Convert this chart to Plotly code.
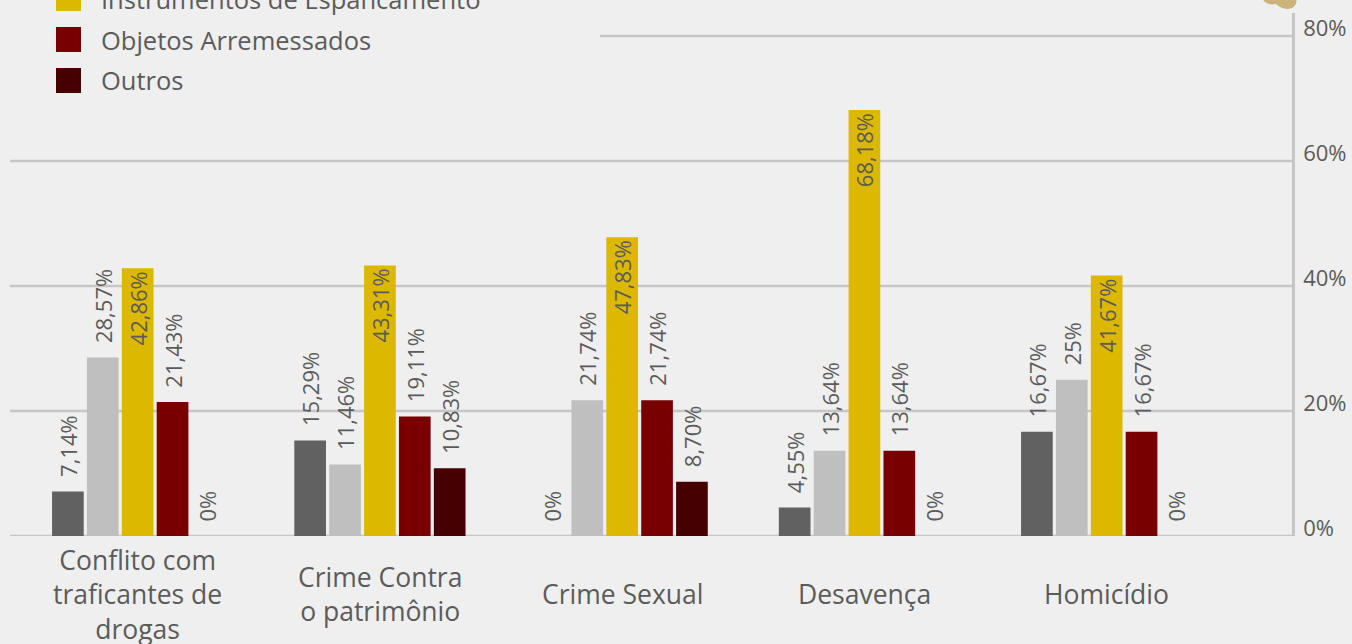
import plotly.graph_objects as go

# Motivação do linchamento x instrumento utilizado (%)
categories = ["Conflito com traficantes de drogas", "Crime Contra o patrimônio",
              "Crime Sexual", "Desavença", "Homicídio"]
category_labels = ["Conflito com<br>traficantes de<br>drogas", "Crime Contra<br>o patrimônio",
                   "Crime Sexual", "Desavença", "Homicídio"]

series_names = ["Armas de Fogo", "Armas Brancas", "Instrumentos de Espancamento",
                "Objetos Arremessados", "Outros"]
armas_fogo = [7.14, 15.29, 0, 4.55, 16.67]
armas_brancas = [28.57, 11.46, 21.74, 13.64, 25]
espancamento = [42.86, 43.31, 47.83, 68.18, 41.67]
arremessados = [21.43, 19.11, 21.74, 13.64, 16.67]
outros = [0, 10.83, 8.70, 0, 0]
series_values = [armas_fogo, armas_brancas, espancamento, arremessados, outros]

y_ticks = [0, 20, 40, 60, 80]
y_tick_labels = ["0%", "20%", "40%", "60%", "80%"]

colors = ["#616161", "#bfbfbf", "#dcb800", "#780000", "#470002"]
TEXT = "#5b5b5b"
GRID = "#c6c6c6"
BG = "#efefef"
FONT = "Open Sans"


def fmt(v):
    if float(v).is_integer():
        return f"{int(v)}%"
    return f"{v:.2f}".replace(".", ",") + "%"


fig = go.Figure()
for name, vals, color in zip(series_names, series_values, colors):
    inside = name == "Instrumentos de Espancamento"
    labels = [fmt(v) if inside else "\u00a0\u00a0" + fmt(v) for v in vals]
    fig.add_trace(go.Bar(
        x=categories, y=vals, name=name,
        marker=dict(color=color, line=dict(width=0)),
        text=labels,
        textposition="inside" if inside else "outside",
        insidetextanchor="end",
        textangle=-90,
        constraintext="none",
        cliponaxis=False,
        textfont=dict(family=FONT, size=22, color=TEXT),
        insidetextfont=dict(family=FONT, size=22, color=TEXT),
        outsidetextfont=dict(family=FONT, size=22, color=TEXT),
        showlegend=False,
    ))

W, H = 1352, 644
ML, MR, MT, MB = 10, 60, 13, 108
PW, PH = W - ML - MR, H - MT - MB


def px_x(px):
    return (px - ML) / PW


def px_y(py):
    return 1 - (py - MT) / PH


shapes = []
# horizontal gridlines (the top one starts to the right of the legend)
for v in y_ticks:
    shapes.append(dict(type="line", xref="paper", yref="y",
                       x0=px_x(600) if v == 80 else 0, x1=1, y0=v, y1=v,
                       line=dict(color=GRID, width=2.5), layer="below"))

# legend: coloured squares with names, stacked upward from the last row;
# rows that fall entirely above the page are left out
annotations = []
row_gap = 41
last_row = 80.5
for k, (name, color) in enumerate(zip(series_names, colors)):
    cy = last_row - row_gap * (len(series_names) - 1 - k)
    if cy < -20:
        continue
    shapes.append(dict(type="rect", xref="paper", yref="paper",
                       x0=px_x(56), x1=px_x(81), y0=px_y(cy + 12.5), y1=px_y(cy - 12.5),
                       fillcolor=color, line=dict(width=0)))
    annotations.append(dict(text=name, xref="paper", yref="paper",
                            x=px_x(99), y=px_y(cy), xanchor="left", yanchor="middle",
                            showarrow=False, font=dict(family=FONT, size=25.5, color=TEXT)))

# category names under each group
for cat, lab in zip(categories, category_labels):
    annotations.append(dict(text=lab, x=cat, xref="x", yref="paper", y=px_y(594),
                            xanchor="center", yanchor="middle", showarrow=False,
                            align="center", font=dict(family=FONT, size=26.5, color=TEXT)))

# small paper ornament at the top right corner
shapes.append(dict(type="path", xref="paper", yref="paper",
                   path=(f"M {px_x(1262)},{px_y(-2)} Q {px_x(1266)},{px_y(6)} {px_x(1276)},{px_y(4)} "
                         f"Q {px_x(1284)},{px_y(11)} {px_x(1292)},{px_y(8)} "
                         f"Q {px_x(1298)},{px_y(4)} {px_x(1296)},{px_y(-2)} Z"),
                   fillcolor="#cbb37c", line=dict(width=0)))

fig.update_layout(
    width=W, height=H,
    margin=dict(l=ML, r=MR, t=MT, b=MB, autoexpand=False),
    paper_bgcolor=BG, plot_bgcolor=BG,
    barmode="group", bargap=0.28, bargroupgap=0.092,
    font=dict(family=FONT, color=TEXT),
    uniformtext=dict(minsize=22, mode="show"),
    showlegend=False,
    shapes=shapes,
    annotations=annotations,
    xaxis=dict(type="category", range=[-0.527, 4.765], showticklabels=False,
               showgrid=False, zeroline=False, showline=False, fixedrange=True),
    yaxis=dict(range=[0, 83.7], side="right", tickvals=y_ticks, ticktext=y_tick_labels,
               showgrid=False, zeroline=False, showline=True, linecolor=GRID, linewidth=2.5,
               ticks="", ticklabelstandoff=4, ticklabelshift=-8,
               tickfont=dict(family=FONT, size=22, color=TEXT), fixedrange=True),
)

fig.write_html("out.html")
